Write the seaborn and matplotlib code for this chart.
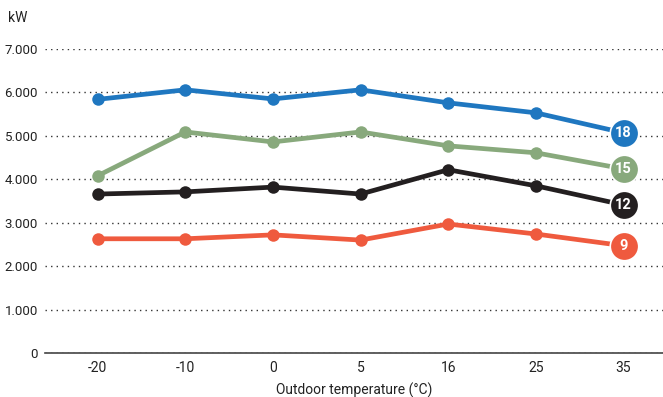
import numpy as np
import pandas as pd
import matplotlib
matplotlib.use("Agg")
import matplotlib.pyplot as plt
import seaborn as sns
from matplotlib.ticker import FuncFormatter

# data
temps = ["-20", "-10", "0", "5", "16", "25", "35"]
kw_18 = [5840, 6060, 5850, 6060, 5760, 5530, 5070]
kw_15 = [4080, 5090, 4860, 5090, 4770, 4610, 4240]
kw_12 = [3660, 3710, 3820, 3660, 4220, 3850, 3410]
kw_9 = [2630, 2630, 2720, 2600, 2970, 2740, 2470]
series_names = ["18", "15", "12", "9"]
colors = {"18": "#1f77c0", "15": "#88a97c", "12": "#231f20", "9": "#ef5a3e"}

sns.set_theme(style="white")
plt.rcParams['font.family'] = ['Roboto', 'DejaVu Sans']

rows = []
for name, vals in zip(series_names, [kw_18, kw_15, kw_12, kw_9]):
    for t, v in zip(temps, vals):
        rows.append({"temp": t, "kw": v, "model": name})
df = pd.DataFrame(rows)

fig = plt.figure(figsize=(6.63, 3.97), dpi=100)
ax = fig.add_axes([45 / 663, 1 - 353 / 397, 1 - 45 / 663, (353 - 49) / 397])

sns.lineplot(data=df, x="temp", y="kw", hue="model", palette=colors,
             sort=False, lw=3.4, marker="o", markersize=9,
             markeredgewidth=0, ax=ax, legend=False)

# big end markers with labels
last = df[df["temp"] == temps[-1]]
for _, r in last.iterrows():
    ax.scatter(r["temp"], r["kw"], s=420, color=colors[r["model"]],
               edgecolor="white", linewidth=1.2, zorder=5)
    ax.text(len(temps) - 1, r["kw"], r["model"], color="white",
            ha="center", va="center", fontsize=10.5, fontweight="bold", zorder=6)

ax.set_ylim(0, 7000)
ax.set_xlim(-0.6, 6.45)
ax.set_yticks(range(0, 7001, 1000))
ax.yaxis.set_major_formatter(FuncFormatter(
    lambda v, p: "0" if v == 0 else f"{int(v):,}".replace(",", ".")))
ax.grid(axis="y", linestyle=(0, (1, 3)), color="#333333", lw=1.0)
ax.grid(axis="x", visible=False)
for s in ["left", "right", "top"]:
    ax.spines[s].set_visible(False)
ax.spines["bottom"].set_color("#444444")
ax.spines["bottom"].set_linewidth(1.2)
ax.tick_params(axis="both", length=0, labelsize=10, colors="#222222")
ax.tick_params(axis="y", pad=5, labelsize=9.5)
ax.tick_params(axis="x", pad=6)
ax.set_xlabel("Outdoor temperature (°C)", fontsize=10, color="#222222", labelpad=5)
ax.set_ylabel("")
fig.text(8 / 663, 1 - 18 / 397, "kW", fontsize=10, color="#222222", va="center")

fig.savefig("out.png", dpi=100)
